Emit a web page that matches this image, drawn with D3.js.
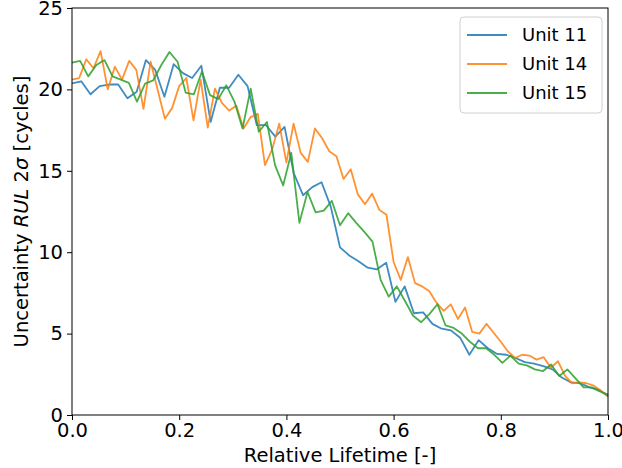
<!DOCTYPE html>
<html>
<head>
<meta charset="utf-8">
<script src="https://cdn.jsdelivr.net/npm/d3@7"></script>
<style>
  body { margin: 0; background: white; }
  text { font-family: "DejaVu Sans", sans-serif; fill: #000; }
</style>
</head>
<body>
<svg id="chart" width="622" height="468"></svg>
<script>

// uncertainty values, each unit sampled evenly across its relative lifetime
const unit11 = [20.37, 20.5, 19.7, 20.2, 20.3, 20.3, 19.45, 19.85, 21.8, 21.2,
  19.55, 21.55, 21.0, 20.7, 21.45, 18.0, 20.1, 20.1, 20.9, 20.2,
  17.8, 17.8, 17.1, 17.7, 14.85, 13.5, 14.0, 14.3, 12.8, 10.3,
  9.8, 9.45, 9.05, 8.95, 9.35, 6.95, 7.9, 6.25, 6.3, 5.6,
  5.3, 5.2, 4.75, 3.7, 4.6, 4.1, 3.75, 3.7, 3.5, 3.25,
  3.15, 3.0, 2.8, 2.3, 2.0, 1.95, 1.7, 1.55, 1.15];

const unit14 = [20.6, 20.7, 21.85, 21.3, 22.35, 20.0, 21.4, 20.6, 21.75, 21.2,
  18.8, 21.7, 19.95, 18.2, 18.85, 20.2, 20.7, 18.1, 20.6, 17.65,
  20.05, 19.15, 18.7, 19.0, 17.6, 18.3, 18.5, 15.35, 16.3, 17.9,
  15.5, 17.9, 16.1, 15.55, 17.6, 17.0, 16.2, 15.9, 14.5, 15.1,
  13.55, 12.95, 13.6, 12.6, 12.3, 9.4, 8.3, 9.7, 8.1, 7.9,
  7.6, 6.9, 6.4, 6.8, 5.9, 6.6, 5.1, 5.0, 5.6, 5.05,
  4.5, 3.9, 3.5, 3.7, 3.65, 3.4, 3.55, 2.9, 3.3, 2.4,
  1.95, 2.0, 1.95, 1.8, 1.5, 1.15];

const unit15 = [21.65, 21.75, 20.8, 21.5, 21.8, 20.8, 20.6, 20.4, 19.25, 20.35,
  20.55, 21.5, 22.3, 21.7, 19.8, 19.7, 21.1, 19.65, 19.4, 20.25,
  19.25, 17.6, 20.05, 17.4, 18.0, 15.35, 14.1, 16.1, 11.8, 13.7,
  12.45, 12.55, 13.15, 11.65, 12.4, 11.8, 11.25, 10.65, 8.3, 7.27,
  7.9, 7.0, 6.1, 5.7, 6.2, 6.8, 5.5, 5.35, 5.0, 4.5,
  4.1, 4.1, 3.7, 3.2, 3.65, 3.15, 3.05, 2.8, 2.7, 3.1,
  2.4, 2.8, 2.25, 1.7, 1.7, 1.45, 1.25];

const unitNames = ["Unit 11", "Unit 14", "Unit 15"];
const unitColors = ["#1f77b4", "#ff7f0e", "#2ca02c"];

const xTicks = [0, 0.2, 0.4, 0.6, 0.8, 1.0];
const yTicks = [0, 5, 10, 15, 20, 25];


const margin = {top: 8, right: 14, bottom: 53, left: 72};
const width = 622 - margin.left - margin.right;
const height = 468 - margin.top - margin.bottom;

const svg = d3.select("#chart");
const plot = svg.append("g")
    .attr("transform", `translate(${margin.left},${margin.top})`);

const x = d3.scaleLinear().domain([0, 1]).range([0, width]);
const y = d3.scaleLinear().domain([0, 25]).range([height, 0]);


const toPoints = (values) => {
  const n = values.length - 1;
  return values.map((v, i) => ({ t: i / n, v: v }));
}

const series = [unit11, unit14, unit15].map((vals, i) => ({
  name: unitNames[i],
  color: unitColors[i],
  points: toPoints(vals)
}));


const appendAxes = () => {
  const xAxis = plot.append("g")
      .attr("transform", `translate(0,${height})`)
      .call(d3.axisBottom(x).tickValues(xTicks).tickFormat(d3.format(".1f")).tickSize(5).tickPadding(3));

  const yAxis = plot.append("g")
      .call(d3.axisLeft(y).tickValues(yTicks).tickFormat(d3.format("d")).tickSize(5).tickPadding(4));

  [xAxis, yAxis].forEach((ax) => {
    ax.select(".domain").remove();
    ax.selectAll("line").attr("stroke", "#000").attr("stroke-width", 1);
    ax.selectAll("text")
        .style("font-family", "DejaVu Sans")
        .style("font-size", "19.5px")
        .attr("fill", "#000");
  });

  // frame round the plot
  plot.append("rect")
      .attr("width", width)
      .attr("height", height)
      .attr("fill", "none")
      .attr("stroke", "#000")
      .attr("stroke-width", 1);
}


const appendLines = () => {
  const line = d3.line()
      .x((d) => x(d.t))
      .y((d) => y(d.v));

  plot.selectAll("path.unit")
      .data(series)
      .enter()
      .append("path")
        .attr("class", "unit")
        .attr("d", (d) => line(d.points))
        .attr("fill", "none")
        .attr("stroke", (d) => d.color)
        .attr("stroke-opacity", 0.85)
        .attr("stroke-width", 1.8)
        .attr("stroke-linejoin", "round");
}


const appendLabels = () => {
  svg.append("text")
      .attr("x", margin.left + width / 2)
      .attr("y", 462)
      .attr("text-anchor", "middle")
      .style("font-size", "19.5px")
      .text("Relative Lifetime [-]");

  const yLabel = svg.append("text")
      .attr("transform", `translate(28,${margin.top + height / 2}) rotate(-90)`)
      .attr("text-anchor", "middle")
      .style("font-size", "19.5px");

  yLabel.append("tspan").text("Uncertainty ");
  yLabel.append("tspan").style("font-style", "italic").text("RUL");
  yLabel.append("tspan").text("  2");
  yLabel.append("tspan").style("font-style", "italic").text("σ");
  yLabel.append("tspan").text(" [cycles]");
}


const appendLegend = () => {
  const legend = svg.append("g")
      .attr("transform", "translate(460,17)");

  legend.append("rect")
      .attr("width", 142)
      .attr("height", 96)
      .attr("rx", 4)
      .attr("fill", "white")
      .attr("fill-opacity", 0.8)
      .attr("stroke", "#d0d0d0");

  const rows = legend.selectAll("g.row")
      .data(series)
      .enter()
      .append("g")
        .attr("class", "row")
        .attr("transform", (d, i) => `translate(0,${18 + i * 29})`);

  rows.append("line")
      .attr("x1", 7)
      .attr("x2", 47)
      .attr("stroke", (d) => d.color)
      .attr("stroke-opacity", 0.85)
      .attr("stroke-width", 1.8);

  rows.append("text")
      .attr("x", 62)
      .attr("dy", "0.35em")
      .style("font-size", "18px")
      .text((d) => d.name);
}


appendLines();
appendAxes();
appendLabels();
appendLegend();
</script>
</body>
</html>
